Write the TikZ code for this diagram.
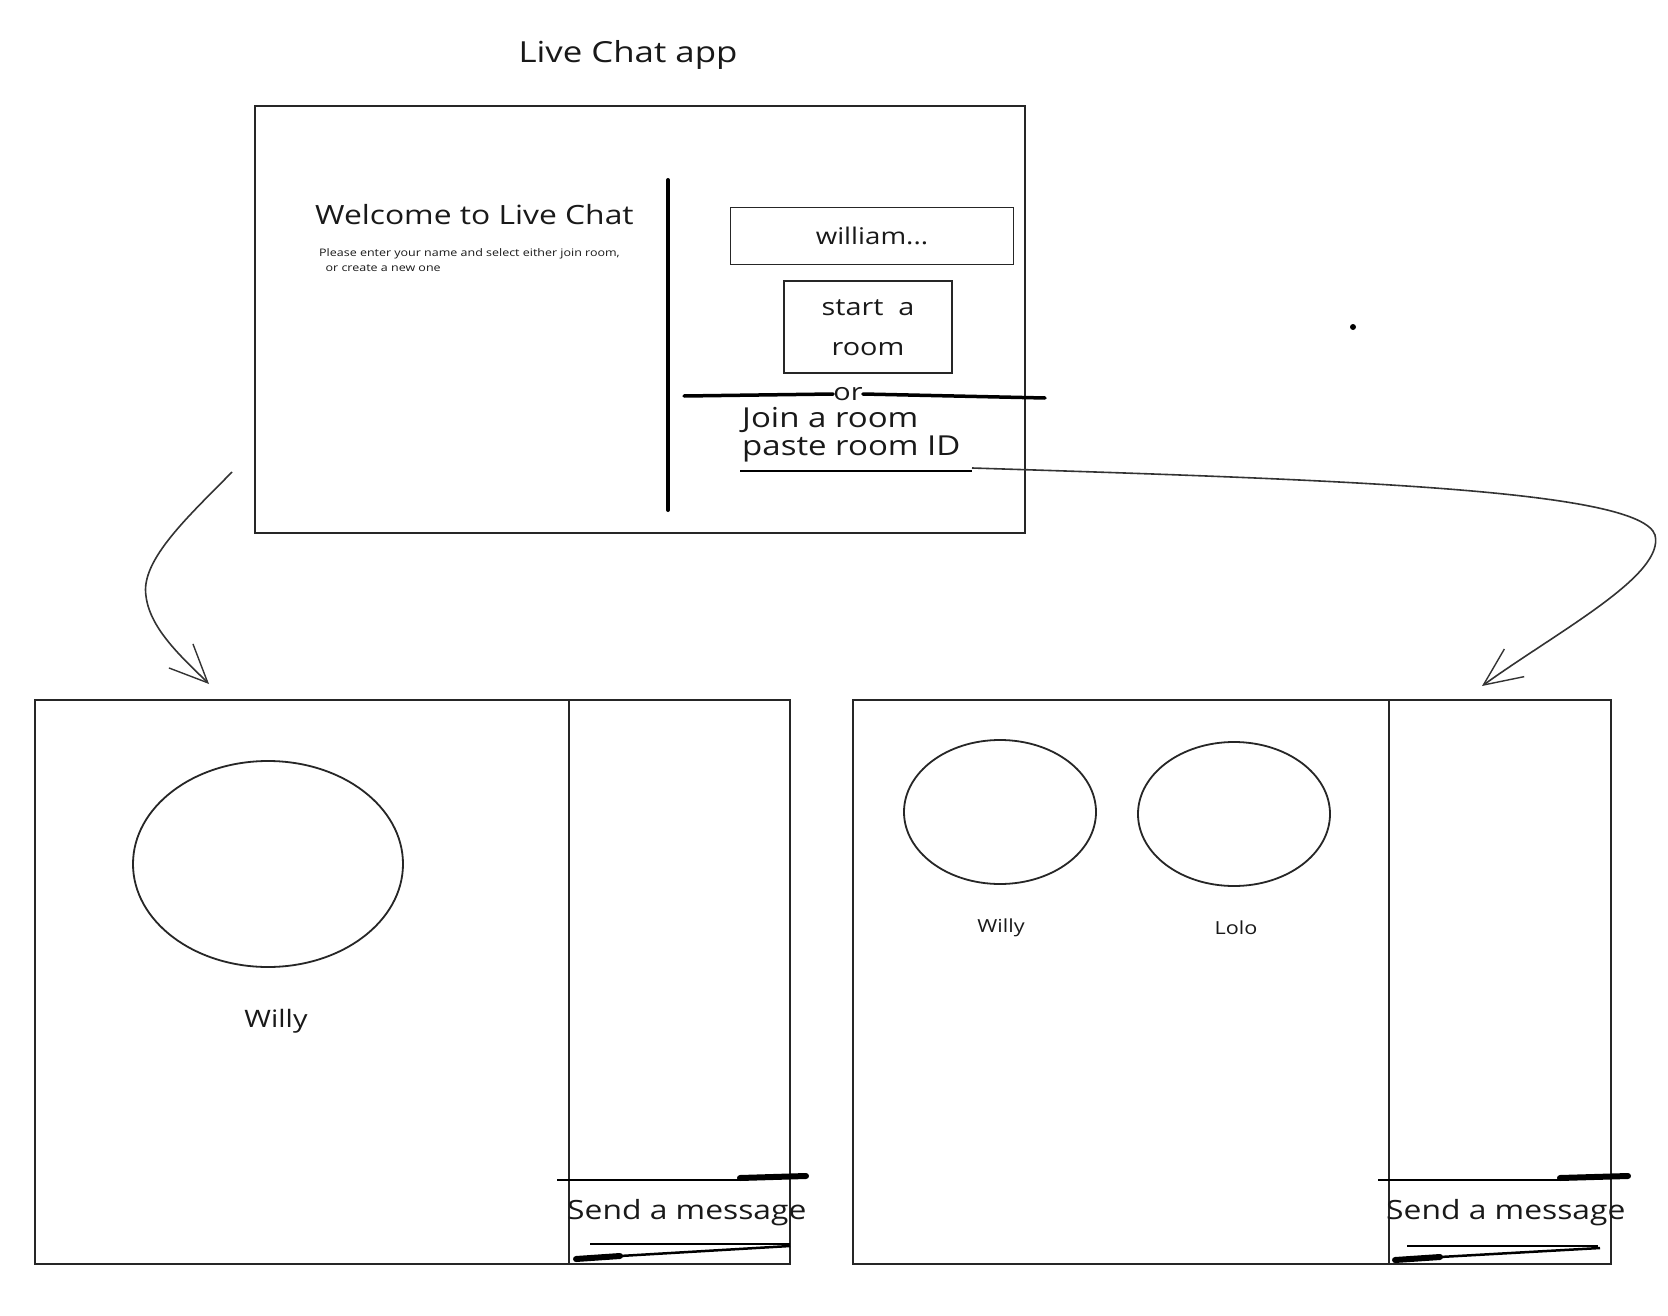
\documentclass[tikz,border=0pt]{standalone}
\usepackage{fontspec}
\setmainfont[FakeStretch=1.2]{Open Sans}
\usetikzlibrary{arrows.meta}
\begin{document}
\begin{tikzpicture}[x=1pt,y=-1pt,
  frame/.style={draw=black!85,line width=1.6pt},
  sketchbox/.style={draw=black!85,line width=1.8pt},
  thick line/.style={draw=black,line width=4pt,line cap=round},
  lbl/.style={inner sep=0pt,text=black!90},
  flow/.style={draw=black!80,line width=1.6pt,-{Straight Barb[length=38pt,width=34pt,line width=1.4pt]}},
  face/.style={draw=black!85,line width=1.8pt}]
\useasboundingbox (0,0) rectangle (1668,1316);
\fill[white] (0,0) rectangle (1668,1316);
% title
\node[lbl,font=\fontsize{29}{32}\selectfont] (title) at (628,55) {Live Chat app};
% top frame
\draw[frame] (255,106) rectangle (1025,533);
\draw[line width=4pt,line cap=round] (668,180) -- (668,510);
\node[lbl,anchor=west,font=\fontsize{26.5}{30}\selectfont] (welcome) at (315,215) {Welcome to Live Chat};
\node[lbl,anchor=north west,align=left,font=\fontsize{10.4}{15}\selectfont] (please) at (319,248) {Please enter your name and select either join room,\\\ \ or create a new one};
\node[sketchbox,minimum width=283pt,minimum height=57pt] (name) at (872,236) {};
\node[lbl,font=\fontsize{23}{26}\selectfont] at (name) {william...};
\node[sketchbox,minimum width=168pt,minimum height=92pt] (start) at (868,327) {};
\node[lbl,font=\fontsize{24}{40}\selectfont,align=center] at (868,328) {start\ \ a\\ room};
\node[lbl,font=\fontsize{24}{26}\selectfont] (or) at (848,394) {or};
\draw[thick line,line width=3.5pt] (684,396) -- (or.west);
\draw[thick line,line width=3.5pt] (or.east) -- (1045,398);
\node[lbl,anchor=west,align=left,font=\fontsize{27.5}{28}\selectfont] (join) at (742,435) {Join a room\\paste room ID};
\draw[line width=2pt] (740,471) -- (972,471);
\coordinate (joinend) at (972,468);
% dot
\fill (1353,327) circle (3pt);
% bottom left frame
\draw[frame] (35,700) rectangle (790,1264);
\draw[frame] (569,700) -- (569,1264);
\draw[face] (268,864) ellipse (135 and 103);
\node[lbl,font=\fontsize{24}{28}\selectfont] (willyA) at (276,1021) {Willy};
\draw[line width=2pt] (557,1180) -- (740,1180);
\draw[line width=6pt,line cap=round] (740,1178) -- (806,1176);
\node[lbl,anchor=west,font=\fontsize{26.5}{28}\selectfont] (sendA) at (567,1213) {Send a message};
\draw[line width=2pt] (590,1244) -- (790,1244);
\draw[line width=6pt,line cap=round] (576,1259) -- (620,1256);
\draw[line width=2.5pt] (620,1256) -- (790,1246);
% bottom right frame
\draw[frame] (853,700) rectangle (1611,1264);
\draw[frame] (1389,700) -- (1389,1264);
\draw[face] (1000,812) ellipse (96 and 72);
\draw[face] (1234,814) ellipse (96 and 72);
\node[lbl,font=\fontsize{18}{22}\selectfont] (willyB) at (1001,928) {Willy};
\node[lbl,font=\fontsize{18}{22}\selectfont] (lolo) at (1236,928) {Lolo};
\draw[line width=2pt] (1378,1180) -- (1560,1180);
\draw[line width=6pt,line cap=round] (1560,1178) -- (1628,1176);
\node[lbl,anchor=west,font=\fontsize{26.5}{28}\selectfont] (sendB) at (1386,1213) {Send a message};
\draw[line width=2pt] (1407,1246) -- (1598,1246);
\draw[line width=6pt,line cap=round] (1395,1260) -- (1440,1257);
\draw[line width=2.5pt] (1440,1257) -- (1600,1248);
% arrows
\coordinate (a1s) at (232,472);
\coordinate (a1e) at (209,684);
\coordinate (a2e) at (1482,686);
\draw[flow] (a1s) .. controls (190,515) and (140,560) .. (146,596) .. controls (150,630) and (185,660) .. (a1e);
\draw[flow] (joinend) .. controls (1350,480) and (1640,490) .. (1655,535) .. controls (1665,575) and (1560,630) .. (a2e);
\end{tikzpicture}
\end{document}
